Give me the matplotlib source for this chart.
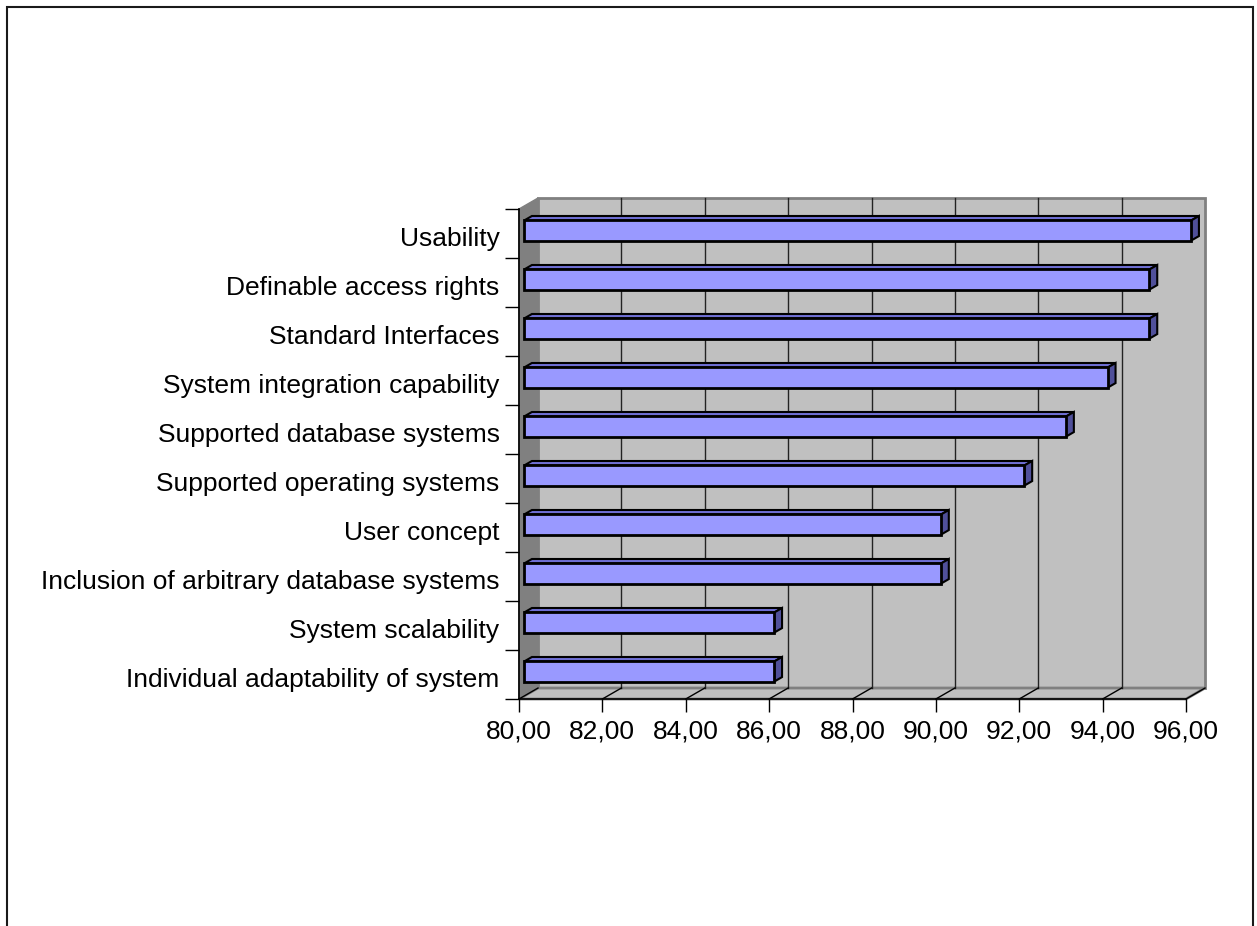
import matplotlib
matplotlib.use('Agg')
import matplotlib.pyplot as plt
from matplotlib.patches import Polygon, Rectangle

plt.rcParams['font.family'] = ['Liberation Sans', 'DejaVu Sans']

# data, bottom to top
categories = [
    "Individual adaptability of system",
    "System scalability",
    "Inclusion of arbitrary database systems",
    "User concept",
    "Supported operating systems",
    "Supported database systems",
    "System integration capability",
    "Standard Interfaces",
    "Definable access rights",
    "Usability",
]
values = [86, 86, 90, 90, 92, 93, 94, 95, 95, 96]
x_ticks = [80, 82, 84, 86, 88, 90, 92, 94, 96]
x_labels = ["80,00", "82,00", "84,00", "86,00", "88,00", "90,00", "92,00", "94,00", "96,00"]

x0, x1 = 80, 96
n = len(categories)

# 3d depth in data units (full depth of the plot box)
DX, DY = 0.456, 0.224
f0, f1 = 0.27, 0.68      # bar front / back depth fraction
bh = 0.41                # bar height

fig = plt.figure(figsize=(12.57, 9.26), dpi=100)
ax = fig.add_axes([519 / 1257, 1 - 699 / 926, (1186 - 519) / 1257, (699 - 209) / 926])
ax.set_xlim(x0, x1)
ax.set_ylim(0, n)
for s in ax.spines.values():
    s.set_visible(False)

wall = '#c0c0c0'
edge = '#808080'

# back wall
ax.add_patch(Polygon([(x0 + DX, DY), (x1 + DX, DY), (x1 + DX, n + DY), (x0 + DX, n + DY)],
                     closed=True, facecolor=wall, edgecolor=edge, lw=2, clip_on=False, zorder=0))
# side wall
ax.add_patch(Polygon([(x0, 0), (x0 + DX, DY), (x0 + DX, n + DY), (x0, n)],
                     closed=True, facecolor='#808080', edgecolor=edge, lw=1, clip_on=False, zorder=1))
# floor
ax.add_patch(Polygon([(x0, 0), (x1, 0), (x1 + DX, DY), (x0 + DX, DY)],
                     closed=True, facecolor=wall, edgecolor=edge, lw=2, clip_on=False, zorder=1))

# gridlines on the back wall and floor
for t in x_ticks[1:-1]:
    ax.plot([t + DX, t + DX], [DY, n + DY], color='#222222', lw=1, clip_on=False, zorder=1)
for t in x_ticks:
    ax.plot([t, t + DX], [0, DY], color='black', lw=1, clip_on=False, zorder=2)

# front edges
ax.plot([x0, x0], [0, n], color='black', lw=1.2, clip_on=False, zorder=2)
ax.plot([x0, x1], [0, 0], color='black', lw=1.2, clip_on=False, zorder=2)

# bars
front = '#9999ff'
top = '#6f6fd4'
side = '#50509a'
centers = [i + 0.5 for i in range(n)]
ax.barh([c + f0 * DY for c in centers], [v - x0 for v in values], left=x0 + f0 * DX,
        height=bh, color=front, edgecolor='black', linewidth=2, zorder=4, clip_on=False)
for c, v in zip(centers, values):
    yt = c + bh / 2
    yb = c - bh / 2
    ax.add_patch(Polygon([(x0 + f0 * DX, yt + f0 * DY), (v + f0 * DX, yt + f0 * DY),
                          (v + f1 * DX, yt + f1 * DY), (x0 + f1 * DX, yt + f1 * DY)],
                         closed=True, facecolor=top, edgecolor='black', lw=1.5, zorder=3, clip_on=False))
    ax.add_patch(Polygon([(v + f0 * DX, yb + f0 * DY), (v + f0 * DX, yt + f0 * DY),
                          (v + f1 * DX, yt + f1 * DY), (v + f1 * DX, yb + f1 * DY)],
                         closed=True, facecolor=side, edgecolor='black', lw=1.5, zorder=3, clip_on=False))

# ticks
ax.set_xticks(x_ticks)
ax.set_xticklabels(x_labels, fontsize=19)
ax.tick_params(axis='x', length=9, width=1, pad=6, color='black')
ax.set_yticks(range(n + 1))
ax.set_yticklabels([])
ax.tick_params(axis='y', which='major', length=10, width=1, color='black')
ax.set_yticks([c - 0.06 for c in centers], minor=True)
ax.set_yticklabels(categories, minor=True, fontsize=19)
ax.tick_params(axis='y', which='minor', length=0, pad=14)

# outer frame
fig.patches.append(Rectangle((6.5 / 1257, -0.05), (1253 - 6.5) / 1257, 1.05 - 7.5 / 926,
                             transform=fig.transFigure, fill=False, edgecolor='#1a1a1a', lw=1.5))

fig.savefig('out.png', dpi=100)
